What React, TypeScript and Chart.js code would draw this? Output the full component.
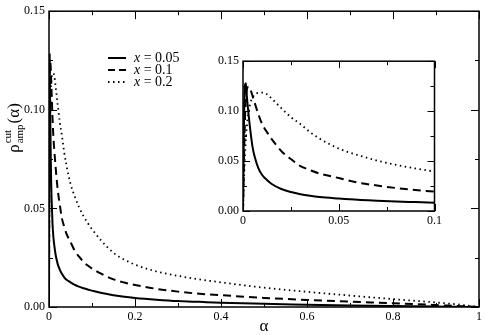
import React, { useEffect, useRef } from "react";
import { Chart, registerables } from "chart.js";

Chart.register(...registerables);

const FONT = '"Liberation Serif", "DejaVu Serif", serif';

// alpha values (x axis)
const alpha = [
  0, 0.0005, 0.001, 0.0015, 0.002, 0.003, 0.004, 0.005, 0.006, 0.008, 0.01,
  0.0125, 0.015, 0.02, 0.025, 0.03, 0.035, 0.04, 0.05, 0.06, 0.07, 0.08, 0.09,
  0.1, 0.12, 0.15, 0.175, 0.2, 0.25, 0.3, 0.35, 0.4, 0.5, 0.6, 0.7, 0.8, 0.9, 0.95, 1.0,
];

// rho_amp^cut(alpha) for x = 0.05
const rhoX005 = [
  0, 0.085, 0.126, 0.128, 0.115, 0.095, 0.078, 0.064, 0.055, 0.043, 0.036,
  0.031, 0.027, 0.022, 0.019, 0.0168, 0.0152, 0.014, 0.0125, 0.0112, 0.0103, 0.0095, 0.0089,
  0.0083, 0.0072, 0.006, 0.0052, 0.0046, 0.0037, 0.003, 0.0026, 0.0022, 0.0016, 0.0012, 0.0008, 0.0005, 0.00025, 0.0001, 0,
];

// x = 0.1
const rhoX01 = [
  0, 0.05, 0.09, 0.113, 0.122, 0.1245, 0.121, 0.115, 0.109, 0.097, 0.087,
  0.079, 0.072, 0.06, 0.052, 0.045, 0.041, 0.0375, 0.033, 0.0285, 0.0255, 0.023, 0.021,
  0.0195, 0.017, 0.014, 0.0124, 0.0112, 0.0092, 0.0078, 0.0067, 0.006, 0.0046, 0.0036, 0.0027, 0.0019, 0.001, 0.0005, 0,
];

// x = 0.2
const rhoX02 = [
  0, 0.03, 0.055, 0.072, 0.085, 0.1, 0.109, 0.1135, 0.1163, 0.1183, 0.1186,
  0.117, 0.1125, 0.103, 0.094, 0.087, 0.079, 0.0725, 0.0625, 0.056, 0.0505, 0.0462, 0.0426,
  0.0395, 0.034, 0.0275, 0.024, 0.0215, 0.018, 0.0158, 0.014, 0.0125, 0.0098, 0.0077, 0.0058, 0.004, 0.0023, 0.0013, 0,
];

const seriesLabels = ["0.05", "0.1", "0.2"];

const mainXTicks = [0, 0.2, 0.4, 0.6, 0.8, 1];
const mainXMinor = [0.1, 0.3, 0.5, 0.7, 0.9];
const mainYTicks = [0, 0.05, 0.1, 0.15];
const mainYMinor = [0.025, 0.075, 0.125];

const insetXTicks = [0, 0.05, 0.1];
const insetXMinor = [0.025, 0.075];
const insetYTicks = [0, 0.05, 0.1, 0.15];
const insetYMinor = [0.025, 0.075, 0.125];

const styles = [
  { dash: [] as number[], width: 2 },
  { dash: [8, 5], width: 2 },
  { dash: [1.5, 3.5], width: 1.8 },
];

function makeDatasets() {
  const series = [rhoX005, rhoX01, rhoX02];
  return series.map((vals, i) => ({
    label: "x = " + seriesLabels[i],
    data: alpha.map((a, j) => ({ x: a, y: vals[j] })),
    borderColor: "#000",
    borderWidth: styles[i].width,
    borderDash: styles[i].dash,
    pointRadius: 0,
    fill: false,
    cubicInterpolationMode: "monotone" as const,
  }));
}

function fmtX(v: number) {
  if (v === 0) return "0";
  if (v === 1) return "1";
  return String(Number(v.toFixed(2)));
}

function framePlugin(xMaj: number[], xMin: number[], yMaj: number[], yMin: number[], major: number, minor: number) {
  return {
    id: "frameTicks",
    afterDatasetsDraw(chart: any) {
      const { ctx, chartArea: a, scales } = chart;
      const xs = scales.x;
      const ys = scales.y;
      ctx.save();
      ctx.strokeStyle = "#000";
      ctx.lineWidth = 1.5;
      ctx.setLineDash([]);
      ctx.strokeRect(a.left, a.top, a.right - a.left, a.bottom - a.top);
      ctx.lineWidth = 1;
      ctx.beginPath();
      const xt = (vals: number[], len: number) => {
        vals.forEach((v) => {
          const p = Math.round(xs.getPixelForValue(v)) + 0.5;
          ctx.moveTo(p, a.bottom);
          ctx.lineTo(p, a.bottom - len);
          ctx.moveTo(p, a.top);
          ctx.lineTo(p, a.top + len);
        });
      };
      const yt = (vals: number[], len: number) => {
        vals.forEach((v) => {
          const p = Math.round(ys.getPixelForValue(v)) + 0.5;
          ctx.moveTo(a.left, p);
          ctx.lineTo(a.left + len, p);
          ctx.moveTo(a.right, p);
          ctx.lineTo(a.right - len, p);
        });
      };
      xt(xMaj, major);
      xt(xMin, minor);
      yt(yMaj, major);
      yt(yMin, minor);
      ctx.stroke();
      ctx.restore();
    },
  };
}

const mainDecor = {
  id: "mainDecor",
  afterDraw(chart: any) {
    const ctx = chart.ctx;
    const a = chart.chartArea;
    ctx.save();
    ctx.fillStyle = "#000";
    ctx.strokeStyle = "#000";
    // legend
    const rows = [58, 70, 82];
    rows.forEach((y, i) => {
      ctx.beginPath();
      ctx.lineWidth = styles[i].width;
      ctx.setLineDash(styles[i].dash.length ? (i === 1 ? [7, 4] : styles[i].dash) : []);
      ctx.moveTo(108, y);
      ctx.lineTo(126, y);
      ctx.stroke();
      ctx.setLineDash([]);
      ctx.textBaseline = "middle";
      ctx.textAlign = "left";
      ctx.font = `italic 14px ${FONT}`;
      ctx.fillText("x", 134, y);
      const wx = ctx.measureText("x").width;
      ctx.font = `14px ${FONT}`;
      ctx.fillText(" = " + seriesLabels[i], 134 + wx, y);
    });
    // x title
    ctx.font = `17px ${FONT}`;
    ctx.textAlign = "center";
    ctx.textBaseline = "middle";
    ctx.fillText("α", (a.left + a.right) / 2, 327);
    // y title
    ctx.translate(13, 128);
    ctx.rotate(-Math.PI / 2);
    ctx.textAlign = "left";
    ctx.textBaseline = "alphabetic";
    const big = `17px ${FONT}`;
    const small = `11px ${FONT}`;
    ctx.font = big;
    const wRho = ctx.measureText("ρ").width;
    const wPar = ctx.measureText("(α)").width;
    ctx.font = small;
    const wS = Math.max(ctx.measureText("cut").width, ctx.measureText("amp").width);
    const total = wRho + 1 + wS + 1 + wPar;
    let x = -total / 2;
    const base = 6;
    ctx.font = big;
    ctx.fillText("ρ", x, base);
    x += wRho + 1;
    ctx.font = small;
    ctx.fillText("cut", x, base - 8);
    ctx.fillText("amp", x, base + 4);
    x += wS + 1;
    ctx.font = big;
    ctx.fillText("(α)", x, base);
    ctx.restore();
  },
};

function axisOpts(
  min: number,
  max: number,
  ticks: number[],
  fmt: (v: number) => string,
  padding: number,
  fit: (s: any) => void
) {
  return {
    type: "linear" as const,
    min,
    max,
    grid: { display: false, drawTicks: false },
    border: { display: false },
    afterBuildTicks: (s: any) => {
      s.ticks = ticks.map((v) => ({ value: v }));
    },
    afterFit: fit,
    ticks: {
      color: "#000",
      padding,
      maxRotation: 0,
      autoSkip: false,
      font: { family: FONT, size: 12 },
      callback: (v: any) => fmt(Number(v)),
    },
  };
}

export default function App() {
  const mainRef = useRef<HTMLCanvasElement | null>(null);
  const insetRef = useRef<HTMLCanvasElement | null>(null);

  useEffect(() => {
    document.body.style.margin = "0";
    const main = new Chart(mainRef.current as HTMLCanvasElement, {
      type: "line",
      data: { datasets: makeDatasets() as any },
      options: {
        responsive: false,
        animation: false,
        layout: { padding: { top: 5, right: 5, left: 0, bottom: 0 } },
        plugins: { legend: { display: false }, tooltip: { enabled: false } },
        scales: {
          x: axisOpts(0, 1, mainXTicks, fmtX, 3, (s: any) => {
            s.height = 28;
          }) as any,
          y: axisOpts(0, 0.15, mainYTicks, (v) => v.toFixed(2), 4, (s: any) => {
            s.width = 49;
          }) as any,
        },
      },
      plugins: [framePlugin(mainXTicks, mainXMinor, mainYTicks, mainYMinor, 8, 4), mainDecor],
    });
    const inset = new Chart(insetRef.current as HTMLCanvasElement, {
      type: "line",
      data: { datasets: makeDatasets() as any },
      options: {
        responsive: false,
        animation: false,
        layout: { padding: { top: 9, right: 7, left: 0, bottom: 0 } },
        plugins: { legend: { display: false }, tooltip: { enabled: false } },
        scales: {
          x: axisOpts(0, 0.1, insetXTicks, fmtX, 3, (s: any) => {
            s.height = 24;
          }) as any,
          y: axisOpts(0, 0.15, insetYTicks, (v) => v.toFixed(2), 4, (s: any) => {
            s.width = 43;
          }) as any,
        },
      },
      plugins: [framePlugin(insetXTicks, insetXMinor, insetYTicks, insetYMinor, 7, 4)],
    });
    return () => {
      main.destroy();
      inset.destroy();
    };
  }, []);

  return (
    <div style={{ position: "absolute", left: 0, top: 0, width: 485, height: 335, background: "#fff" }}>
      <canvas ref={mainRef} width={485} height={335} style={{ position: "absolute", left: 0, top: 0 }} />
      <canvas ref={insetRef} width={245} height={185} style={{ position: "absolute", left: 200, top: 50 }} />
    </div>
  );
}
